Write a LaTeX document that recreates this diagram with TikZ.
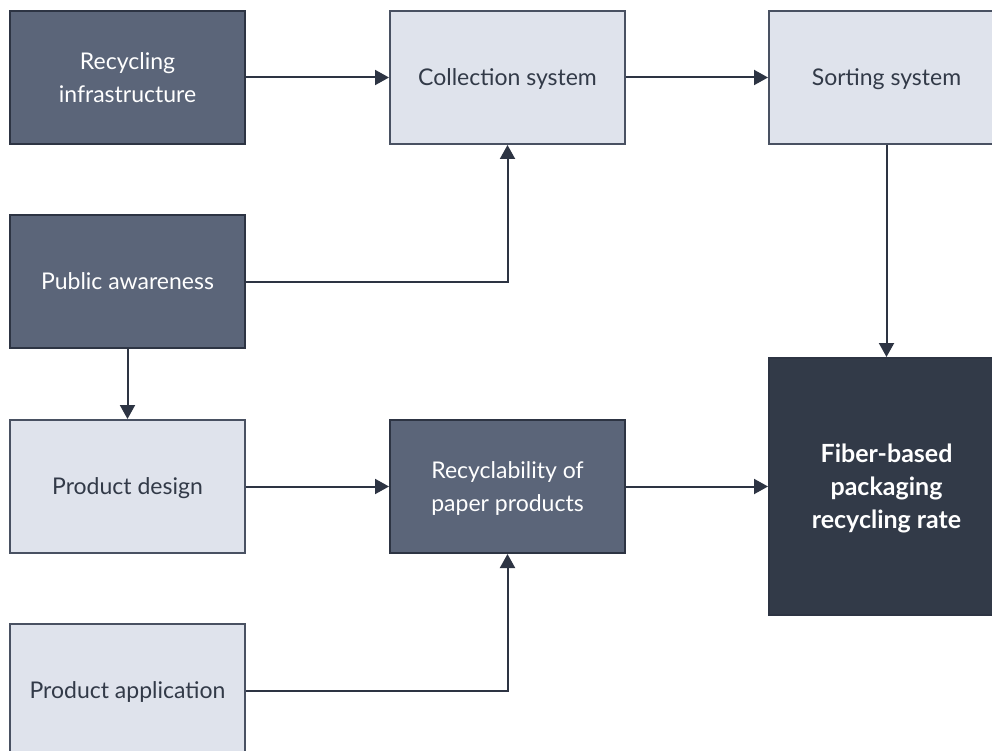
\documentclass[tikz,border=0pt]{standalone}
\usepackage{fontspec}
\setmainfont{Lato}
\usetikzlibrary{arrows.meta}
\definecolor{midfill}{HTML}{5B6579}
\definecolor{lightfill}{HTML}{DFE3EC}
\definecolor{darkfill}{HTML}{323A48}
\definecolor{edgedark}{HTML}{2D3443}
\definecolor{edgelight}{HTML}{495162}
\definecolor{linecol}{HTML}{2D3443}
\tikzset{
  boxbase/.style={rectangle, minimum width=235pt, minimum height=133pt, inner sep=2pt, line width=2pt, align=center, text depth=0pt, font=\fontsize{23}{33}\selectfont},
  midbox/.style={boxbase, fill=midfill, draw=edgedark, text=white},
  lightbox/.style={boxbase, fill=lightfill, draw=edgelight, text=darkfill},
  topbox/.style={boxbase, fill=darkfill, draw=edgedark, text=white, minimum height=257pt, font=\fontsize{25}{33}\selectfont\bfseries},
  arr/.style={draw=linecol, line width=2pt, -{Triangle[length=14pt,width=15pt]}}
}
\begin{document}
\begin{tikzpicture}[x=1pt,y=-1pt]
\useasboundingbox (0,0) rectangle (992,751);
\clip (0,0) rectangle (992,751);
\node[midbox] (ri) at (127.5,77.5) {Recycling\\infrastructure};
\node[lightbox] (cs) at (507.5,77.5) {Collection system};
\node[lightbox] (ss) at (886.5,77.5) {Sorting system};
\node[midbox] (pa) at (127.5,281.5) {Public awareness};
\node[lightbox] (pd) at (127.5,486.5) {Product design};
\node[midbox] (rp) at (507.5,486.5) {Recyclability of\\paper products};
\node[topbox] (fb) at (886.5,486.5) {Fiber-based\\packaging\\recycling rate};
\node[lightbox] (app) at (127.5,690.5) {Product application};
\draw[arr] (ri) -- (cs);
\draw[arr] (cs) -- (ss);
\draw[arr] (pa.east) -| (cs.south);
\draw[arr] (pa) -- (pd);
\draw[arr] (pd) -- (rp);
\draw[arr] (rp) -- (fb);
\draw[arr] (ss) -- (fb);
\draw[arr] (app.east) -| (rp.south);
\end{tikzpicture}
\end{document}
